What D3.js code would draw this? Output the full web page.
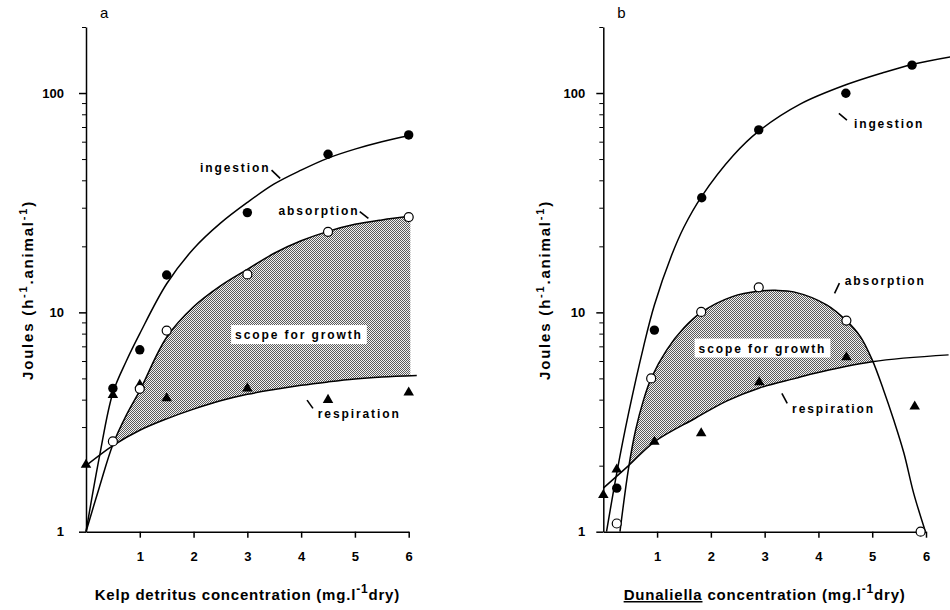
<!DOCTYPE html>
<meta charset="utf-8">
<script src="https://d3js.org/d3.v7.min.js"></script>
<style>
body { margin: 0; background: #fff; }
svg { font-family: "Liberation Sans", Arial, sans-serif; }
.tick text { font-weight: bold; font-size: 13px; fill: #000; }
.domain, .tick line { stroke: #000; stroke-width: 1.5px; }
.lbl { font-weight: bold; font-size: 12px; letter-spacing: 1.9px; }
.title { font-weight: bold; font-size: 15px; }
</style>
<svg id="chart" width="950" height="610"></svg>
<script>
// ---- panel a : kelp detritus (measured points) ----
const kelpIngX = [0.5, 1, 1.5, 3, 4.5, 6];
const kelpIng  = [4.5, 6.75, 14.8, 28.5, 52.6, 64.4];
const kelpAbsX = [0.5, 1, 1.5, 3, 4.5, 6];
const kelpAbs  = [2.58, 4.48, 8.26, 14.9, 23.3, 27.2];
const kelpResX = [0, 0.5, 1, 1.5, 3, 4.5, 6];
const kelpRes  = [2.02, 4.2, 4.67, 4.06, 4.5, 3.99, 4.31];
// fitted curves
const kelpIngFitX = [0, 0.25, 0.5, 0.75, 1, 1.5, 2, 2.5, 3, 3.5, 4, 4.5, 5, 5.5, 6.02];
const kelpIngFit  = [1, 2.2, 4.3, 6.0, 8.0, 13.5, 19.5, 25.5, 31.7, 38.5, 44.5, 50.5, 55.5, 60, 64];
const kelpAbsFitX = [0, 0.25, 0.5, 0.75, 1, 1.5, 2, 2.5, 3, 3.5, 4, 4.5, 5, 5.5, 6.03];
const kelpAbsFit  = [1, 1.6, 2.5, 3.4, 4.4, 7.7, 10.6, 13.2, 15.7, 18.6, 21.2, 23.4, 25.2, 26.4, 27.4];
const kelpResFitX = [0, 0.5, 1, 1.5, 2, 2.5, 3, 3.5, 4, 4.5, 5, 5.5, 6.15];
const kelpResFit  = [2.0, 2.47, 2.9, 3.27, 3.62, 3.95, 4.23, 4.45, 4.65, 4.82, 4.97, 5.07, 5.15];

// ---- panel b : Dunaliella ----
const dunIngX = [0.25, 0.95, 1.83, 2.89, 4.51, 5.74];
const dunIng  = [1.58, 8.3, 33.3, 67.9, 99.8, 134];
const dunAbsX = [0.25, 0.89, 1.82, 2.89, 4.52, 5.9];
const dunAbs  = [1.09, 5.0, 10.05, 13.0, 9.17, 1.0];
const dunResX = [0, 0.25, 0.95, 1.82, 2.9, 4.52, 5.79];
const dunRes  = [1.47, 1.92, 2.57, 2.81, 4.8, 6.24, 3.72];
const dunIngFitX = [0.06, 0.25, 0.47, 0.75, 0.95, 1.27, 1.5, 1.83, 2.42, 2.89, 3.66, 4.51, 5.21, 5.74, 6.45];
const dunIngFit  = [1, 1.85, 3.47, 7.0, 10.8, 18.2, 24.5, 33.8, 52, 67, 89, 109, 124, 135, 146];
const dunAbsFitX = [0.31, 0.47, 0.6, 0.75, 0.89, 1.18, 1.5, 1.82, 2.4, 2.9, 3.2, 3.54, 4.16, 4.52, 4.78, 5.0, 5.21, 5.4, 5.59, 5.77, 5.99];
const dunAbsFit  = [1, 1.95, 2.9, 4.0, 5.0, 6.74, 8.5, 10.0, 11.8, 12.5, 12.6, 12.4, 10.8, 9.17, 7.75, 6.07, 4.43, 3.23, 2.28, 1.5, 1.0];
const dunResFitX = [0, 0.47, 0.95, 1.71, 2.3, 2.89, 3.57, 3.85, 5.0, 6.42];
const dunResFit  = [1.58, 2.0, 2.57, 3.29, 3.95, 4.51, 5.0, 5.22, 5.96, 6.4];

// axes
const xTicks = [1, 2, 3, 4, 5, 6];
const yMajor = [1, 10, 100];
const yMinor = [2, 3, 4, 5, 6, 7, 8, 9, 20, 30, 40, 50, 60, 70, 80, 90, 200];

// annotations, in data units: [text, x, y]
const kelpLabels = [["ingestion", 2.12, 43.7], ["absorption", 3.58, 27.8], ["respiration", 4.31, 3.3]];
const kelpLeaders = [[3.45, 44.5, 3.61, 40.8], [5.09, 28.8, 5.25, 26.8], [4.11, 3.98, 4.22, 3.65]];
const kelpScope = [3.96, 7.88];
const dunLabels = [["ingestion", 4.66, 69.2], ["absorption", 4.49, 13.3], ["respiration", 3.51, 3.47]];
const dunLeaders = [[4.38, 80.7, 4.53, 75.3], [4.30, 12.2, 4.39, 13.6], [3.32, 4.27, 3.42, 3.85]];
const dunScope = [2.96, 6.84];

const svg = d3.select("#chart");

// halftone fill
const pat = svg.append("defs").append("pattern")
  .attr("id", "halftone").attr("patternUnits", "userSpaceOnUse")
  .attr("width", 4).attr("height", 4);
pat.append("rect").attr("width", 4).attr("height", 4).attr("fill", "#f2f2f2");
[[0,0],[2,0],[1,1],[3,1],[0,2],[2,2],[1,3],[3,3]].forEach(function(p) {
  pat.append("rect").attr("x", p[0]).attr("y", p[1]).attr("width", 1).attr("height", 1)
    .attr("fill", "#5a5a5a").attr("shape-rendering", "crispEdges");
});

const zip = (xs, vs) => xs.map((v, i) => [v, vs[i]]);

function drawPanel(p) {
  const x = d3.scaleLinear().domain([0, 6]).range([p.left, p.right]);
  const y = d3.scaleLog().domain([1, 200]).range([531.7, 27]);
  const g = svg.append("g");
  const curve = d3.curveCatmullRom.alpha(0.5);

  const line = d3.line().x(d => x(d[0])).y(d => y(d[1])).curve(curve);

  // scope for growth: below absorption and above respiration
  g.append("clipPath").attr("id", "clip-" + p.id).append("path")
    .attr("d", d3.area().x(d => x(d[0])).y0(y.range()[1]).y1(d => y(d[1]))
      .curve(curve)(zip(p.resFitX, p.resFit)));
  g.append("path")
    .attr("clip-path", "url(#clip-" + p.id + ")")
    .attr("fill", "url(#halftone)")
    .attr("d", d3.area().x(d => x(d[0])).y0(y(1)).y1(d => y(d[1]))
      .curve(curve)(zip(p.absFitX, p.absFit)));

  // axes
  g.append("g").attr("transform", "translate(0," + y(1) + ")")
    .call(d3.axisBottom(x).tickValues(xTicks).tickFormat(d3.format("d"))
      .tickSize(6).tickSizeOuter(0).tickPadding(14));
  g.append("g").attr("transform", "translate(" + x(0) + ",0)")
    .call(d3.axisLeft(y).tickValues(yMajor).tickFormat(d3.format("d")).tickSize(7).tickSizeOuter(0).tickPadding(p.pad));
  const minor = g.append("g").attr("transform", "translate(" + x(0) + ",0)")
    .call(d3.axisLeft(y).tickValues(yMinor).tickFormat("").tickSize(4).tickSizeOuter(0));
  minor.select(".domain").remove();
  minor.selectAll(".tick line").style("stroke-width", "1px");

  // fitted curves
  [[p.ingFitX, p.ingFit], [p.absFitX, p.absFit], [p.resFitX, p.resFit]].forEach(function(c) {
    g.append("path").attr("d", line(zip(c[0], c[1])))
      .attr("fill", "none").attr("stroke", "#000").attr("stroke-width", 1.5);
  });

  // points
  g.selectAll(".tri").data(zip(p.resX, p.res)).enter().append("path")
    .attr("d", d3.symbol().type(d3.symbolTriangle).size(48))
    .attr("transform", d => "translate(" + x(d[0]) + "," + y(d[1]) + ")")
    .attr("fill", "#000");
  g.selectAll(".ing").data(zip(p.ingX, p.ing)).enter().append("circle")
    .attr("cx", d => x(d[0])).attr("cy", d => y(d[1])).attr("r", 4.7).attr("fill", "#000");
  g.selectAll(".abs").data(zip(p.absX, p.abs)).enter().append("circle")
    .attr("cx", d => x(d[0])).attr("cy", d => y(d[1])).attr("r", 4.5)
    .attr("fill", "#fff").attr("stroke", "#000").attr("stroke-width", 1.2);

  // labels
  p.labels.forEach(function(l) {
    g.append("text").attr("class", "lbl").attr("x", x(l[1])).attr("y", y(l[2])).text(l[0]);
  });
  p.leaders.forEach(function(l) {
    g.append("line").attr("x1", x(l[0])).attr("y1", y(l[1])).attr("x2", x(l[2])).attr("y2", y(l[3]))
      .attr("stroke", "#000").attr("stroke-width", 1.6);
  });
  const st = g.append("text").attr("class", "lbl").attr("text-anchor", "middle")
    .attr("x", x(p.scope[0])).attr("y", y(p.scope[1]) + 4).style("letter-spacing", "1.9px")
    .text("scope for growth");
  const bb = st.node().getBBox();
  g.insert("rect", function() { return st.node(); })
    .attr("x", bb.x - 4).attr("y", y(p.scope[1]) - 10).attr("width", bb.width + 8).attr("height", 19)
    .attr("fill", "#fff");

  // panel letter
  g.append("text").attr("x", x(0) + 14).attr("y", 18).style("font-size", "15px").text(p.id);

  // y title
  const yt = g.append("text").attr("class", "title").style("letter-spacing", "1.8px")
    .attr("text-anchor", "middle")
    .attr("transform", "translate(" + (x(0) - 53) + ",290) rotate(-90)");
  yt.append("tspan").text("Joules (h");
  yt.append("tspan").attr("dy", -6).style("font-size", "11px").text("-1");
  yt.append("tspan").attr("dy", 6).text(".animal");
  yt.append("tspan").attr("dy", -6).style("font-size", "11px").text("-1");
  yt.append("tspan").attr("dy", 6).text(")");

  // x title
  const xt = g.append("text").attr("class", "title").style("letter-spacing", "0.8px")
    .attr("text-anchor", "middle")
    .attr("x", (x(0) + x(6)) / 2).attr("y", 600);
  if (p.id === "b") {
    xt.append("tspan").style("text-decoration", "underline").text("Dunaliella");
    xt.append("tspan").text(" concentration (mg.l");
  } else {
    xt.append("tspan").text("Kelp detritus concentration (mg.l");
  }
  xt.append("tspan").attr("dy", -7).style("font-size", "12px").text("-1");
  xt.append("tspan").attr("dy", 7).text("dry)");
}

drawPanel({
  id: "a", left: 86, right: 408.7, pad: 15,
  ingX: kelpIngX, ing: kelpIng, absX: kelpAbsX, abs: kelpAbs, resX: kelpResX, res: kelpRes,
  ingFitX: kelpIngFitX, ingFit: kelpIngFit, absFitX: kelpAbsFitX, absFit: kelpAbsFit,
  resFitX: kelpResFitX, resFit: kelpResFit,
  labels: kelpLabels, leaders: kelpLeaders, scope: kelpScope
});
drawPanel({
  id: "b", left: 603.3, right: 926, pad: 11,
  ingX: dunIngX, ing: dunIng, absX: dunAbsX, abs: dunAbs, resX: dunResX, res: dunRes,
  ingFitX: dunIngFitX, ingFit: dunIngFit, absFitX: dunAbsFitX, absFit: dunAbsFit,
  resFitX: dunResFitX, resFit: dunResFit,
  labels: dunLabels, leaders: dunLeaders, scope: dunScope
});
</script>
